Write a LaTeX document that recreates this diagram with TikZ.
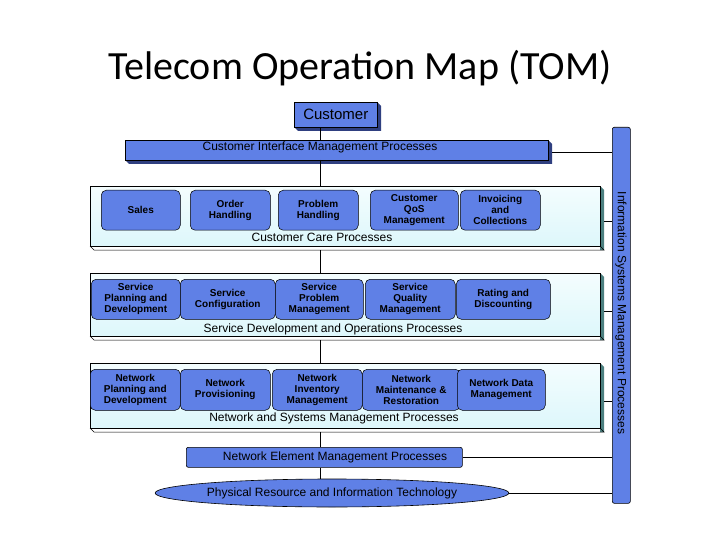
\documentclass[tikz,border=0pt]{standalone}
\usepackage{fontspec}
\setmainfont{Liberation Sans}
\newfontfamily\titlefont{Carlito}
\usetikzlibrary{shapes.geometric}
\definecolor{tblue}{HTML}{5F80E6}
\definecolor{tdark}{HTML}{2F3F80}
\definecolor{band}{HTML}{DDF7FB}
\definecolor{bandtop}{HTML}{F4FDFE}
\begin{document}
\begin{tikzpicture}[x=1pt,y=-1pt,
  bluebox/.style={draw=black,fill=tblue,line width=0.6pt},
  proc/.style={draw=black,fill=tblue,rounded corners=5pt,line width=0.5pt,font=\bfseries\fontsize{10}{11}\selectfont,align=center,inner sep=0pt},
  bandbox/.style={draw=black,top color=bandtop,bottom color=band,line width=0.5pt},
  lbl/.style={font=\fontsize{12}{13}\selectfont},
  conn/.style={draw=black,line width=0.7pt}]
\useasboundingbox (0,0) rectangle (720,540);
\node[font=\titlefont\fontsize{40}{44}\selectfont] (title) at (360,68) {Telecom Operation Map (TOM)};
% Customer
\fill[tdark] (377,102)--(381,106)--(381,131)--(298,131)--(294,127)--(377,127)--cycle;
\node[bluebox,minimum width=83pt,minimum height=25pt,inner sep=0pt,anchor=north west,font=\fontsize{15}{16}\selectfont] (cust) at (294,102) {Customer};
% CIM
\fill[tdark] (548,140)--(552,144)--(552,164)--(129,164)--(125,160)--(548,160)--cycle;
\node[bluebox,minimum width=423pt,minimum height=20pt,inner sep=0pt,anchor=north west] (cim) at (125,140) {};
\node[lbl] (cimlbl) at (320,147) {Customer Interface Management Processes};
% IS bar
\node[bluebox,rounded corners=2pt,minimum width=18pt,minimum height=376pt,inner sep=0pt,anchor=north west] (isb) at (612,127) {};
\node[lbl,rotate=-90] (islbl) at (621,313) {Information Systems Management Processes};
% bands
\foreach \n/\t/\b in {cc/186/250,sd/273/340,ns/363/432}{
  \fill[gray!60!teal] (600,\t)--(604,\t+4)--(604,\b)--(600,\b)--cycle;
  \node[bandbox,minimum width=510pt,minimum height=\b-\t-4,inner sep=0pt,anchor=north west] (\n) at (90,\t) {};
  \draw[black,line width=0.5pt] (90,\b-4)--(94,\b)--(604,\b)--(600,\b-4);
}
\node[lbl] (cclbl) at (322,237) {Customer Care Processes};
\node[lbl] (sdlbl) at (333,329) {Service Development and Operations Processes};
\node[lbl] (nslbl) at (334,418) {Network and Systems Management Processes};
% boxes
\newcommand\pbox[6]{\node[proc,minimum width=#3-#2,minimum height=#5-#4,anchor=north west] (#1) at (#2,#4) {#6};}
\pbox{sales}{101}{180}{190}{230}{Sales}
\pbox{order}{190}{270}{190}{230}{Order\\Handling}
\pbox{prob}{278}{358}{190}{230}{Problem\\Handling}
\pbox{qos}{370}{458}{190}{230}{Customer\\QoS\\Management}
\pbox{inv}{460}{540}{190}{230}{Invoicing\\and\\Collections}
\pbox{spd}{91}{180}{279}{319}{Service\\Planning and\\Development}
\pbox{scfg}{180}{275}{279}{319}{Service\\Configuration}
\pbox{spm}{275}{363}{279}{319}{Service\\Problem\\Management}
\pbox{sqm}{365}{455}{279}{319}{Service\\Quality\\Management}
\pbox{rat}{456}{550}{279}{319}{Rating and\\Discounting}
\pbox{npd}{90}{180}{369}{410}{Network\\Planning and\\Development}
\pbox{nprov}{180}{270}{369}{410}{Network\\Provisioning}
\pbox{ninv}{272}{362}{369}{410}{Network\\Inventory\\Management}
\pbox{nmr}{362}{460}{369}{410}{Network\\Maintenance \&\\Restoration}
\pbox{ndm}{457}{545}{369}{410}{Network Data\\Management}
% NEM
\node[bluebox,rounded corners=2pt,minimum width=276pt,minimum height=20pt,inner sep=0pt,anchor=north west] (nem) at (186,447) {};
\node[lbl] (nemlbl) at (335,457) {Network Element Management Processes};
% ellipse
\node[ellipse,bluebox,minimum width=324pt,minimum height=28pt,inner sep=0pt,lbl] (phy) at (332,493) {Physical Resource and Information Technology};
% connectors
\draw[conn] (cust.south -| 320,0) -- (320,140);
\draw[conn] (320,160) -- (320,186);
\draw[conn] (320,250) -- (320,273);
\draw[conn] (320,340) -- (320,363);
\draw[conn] (320,432) -- (nem.north -| 320,0);
\draw[conn] (nem.south -| 320,0) -- (phy.north -| 320,0);
\draw[conn] (552,152) -- (isb.west |- 0,152);
\draw[conn] (604,221) -- (isb.west |- 0,221);
\draw[conn] (604,311) -- (isb.west |- 0,311);
\draw[conn] (604,401) -- (isb.west |- 0,401);
\draw[conn] (nem.east) -- (isb.west |- nem.east);
\draw[conn] (phy.east) -- (isb.west |- phy.east);
\end{tikzpicture}
\end{document}
